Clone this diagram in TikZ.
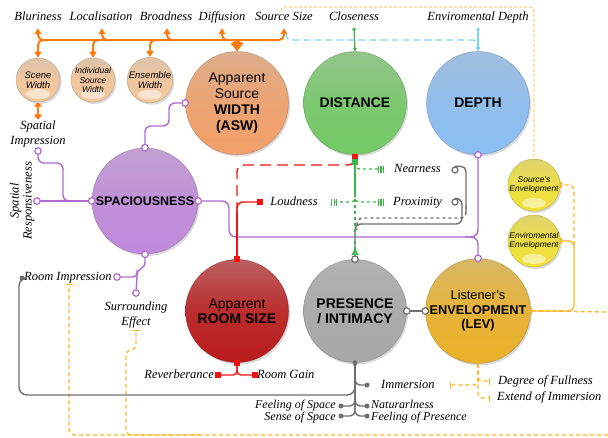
\documentclass[tikz,border=0pt]{standalone}
\usepackage{fontspec}
\setmainfont{Liberation Serif}
\setsansfont{Liberation Sans}
\usetikzlibrary{arrows.meta,shadows,calc}
\definecolor{cASW}{HTML}{F2A068}
\definecolor{cDIST}{HTML}{74C966}
\definecolor{cDEPTH}{HTML}{8ABEF2}
\definecolor{cSPAC}{HTML}{C18ADC}
\definecolor{cROOM}{HTML}{BA1A1A}
\definecolor{cPRES}{HTML}{A8A8A8}
\definecolor{cLEV}{HTML}{EBB128}
\definecolor{cPEACH}{HTML}{F4C79C}
\definecolor{cYEL}{HTML}{F3E236}
\definecolor{lOrange}{HTML}{FF7B0E}
\definecolor{lPurple}{HTML}{B16AD3}
\definecolor{lGreen}{HTML}{3DB54A}
\definecolor{lGray}{HTML}{6E6E6E}
\definecolor{lBlue}{HTML}{7FD3F5}
\definecolor{lOdash}{HTML}{FFB41F}
\definecolor{lYdash}{HTML}{FFD27A}
\definecolor{lRed}{HTML}{F21212}
\tikzset{
 Trip/.tip={Bar[width=7pt,sep=1.2pt]Bar[width=7pt,sep=1.2pt]Bar[width=7pt]},
 glass/.style={circle, inner sep=0pt, align=center, top color=#1!58!lightgray, bottom color=#1, middle color=#1!88!lightgray, draw=#1!70!black, draw opacity=.5, line width=.6pt, drop shadow={shadow xshift=1.5pt, shadow yshift=-2pt, opacity=.3}},
 bigb/.style={minimum size=103pt, font=\sffamily\fontsize{14}{16}\selectfont},
 minib/.style={minimum size=#1, font=\sffamily\itshape\fontsize{9.5}{10}\selectfont, path picture={\fill[white,opacity=.5] ([yshift=8pt]path picture bounding box.south) ellipse [x radius=12pt, y radius=5pt];}},
 lbl/.style={font=\itshape\fontsize{12.5}{15}\selectfont, inner sep=0pt, text height=8.5pt, text depth=2.5pt},
 lbls/.style={font=\itshape\fontsize{12}{14}\selectfont, inner sep=0pt, text height=7.5pt, text depth=1.5pt},
 lblm/.style={font=\itshape\fontsize{12.5}{15}\selectfont, inner sep=0pt, align=center},
 ol/.style={draw=lOrange, line width=2pt},
 pl/.style={draw=lPurple, line width=1.4pt},
 gl/.style={draw=lGray, line width=1.4pt},
 gr/.style={draw=lGreen, line width=1.3pt},
 rl/.style={draw=lRed, line width=1.4pt},
 bl/.style={draw=lBlue, line width=1.3pt},
 od/.style={draw=lOdash, line width=1.3pt, dash pattern=on 4pt off 3pt},
 oc/.style={draw=lOdash, line width=1.3pt},
 yd/.style={draw=lYdash, line width=1.2pt, dash pattern=on 3pt off 2pt},
 pc/.style={circle, draw=lPurple, fill=white, line width=1.2pt, minimum size=6.5pt, inner sep=0pt},
 gc/.style={circle, draw=lGray, fill=white, line width=1.2pt, minimum size=6.5pt, inner sep=0pt},
 gdot/.style={circle, fill=lGray, minimum size=5pt, inner sep=0pt},
 rsq/.style={rectangle, fill=lRed, minimum size=5.5pt, inner sep=0pt},
 gsq/.style={rectangle, fill=lGreen, minimum size=5.5pt, inner sep=0pt},
}
\begin{document}
\begin{tikzpicture}[x=1pt,y=-1pt]
\useasboundingbox (0,0) rectangle (608,437);
% ---------- balls
\node[glass=cASW, bigb] (asw) at (237,103) {Apparent\\Source\\\textbf{WIDTH}\\\textbf{(ASW)}};
\node[glass=cDIST, bigb] (dist) at (355,103) {\textbf{DISTANCE}};
\node[glass=cDEPTH, bigb] (depth) at (478,103) {\textbf{DEPTH}};
\node[glass=cSPAC, bigb, minimum size=106pt, font=\sffamily\fontsize{12.5}{14}\selectfont] (spac) at (145,201) {\textbf{SPACIOUSNESS}};
\node[glass=cROOM, bigb, font=\sffamily\fontsize{14}{15}\selectfont] (room) at (237,311) {Apparent\\\textbf{ROOM SIZE}};
\node[glass=cPRES, bigb, font=\sffamily\fontsize{14}{15}\selectfont] (pres) at (355,311) {\textbf{PRESENCE}\\\textbf{/ INTIMACY}};
\node[glass=cLEV, bigb, font=\sffamily\fontsize{12.7}{14.5}\selectfont] (lev) at (478,311) {Listener's\\\textbf{ENVELOPMENT}\\\textbf{(LEV)}};
\node[glass=cPEACH, minib=44pt] (scene) at (38,80) {Scene\\Width};
\node[glass=cPEACH, minib=44pt, font=\sffamily\itshape\fontsize{8.5}{9.5}\selectfont] (isw) at (93,80) {Individual\\Source\\Width};
\node[glass=cPEACH, minib=44pt] (ew) at (150,80) {Ensemble\\Width};
\node[glass=cYEL, minib=52pt, font=\sffamily\itshape\fontsize{8.4}{9}\selectfont] (se) at (534,185) {Source's\\Envelopment};
\node[glass=cYEL, minib=52pt, font=\sffamily\itshape\fontsize{8.4}{9}\selectfont] (ee) at (534,241) {Enviromental\\Envelopment};
% ---------- labels
\node[lbl] (blur) at (38,17.5) {Bluriness};
\node[lbl] (loc) at (101,17.5) {Localisation};
\node[lbl] (broad) at (166,17.5) {Broadness};
\node[lbl] (diff) at (222,17.5) {Diffusion};
\node[lbl] (ssize) at (284,17.5) {Source Size};
\node[lbl] (close) at (354,17.5) {Closeness};
\node[lbl] (envd) at (478,17.5) {Enviromental Depth};
\node[lblm] (simp) at (38,134) {Spatial\\Impression};
\node[lblm, rotate=90, font=\itshape\fontsize{12.5}{13}\selectfont] (sresp) at (22,201) {Spatial\\Responsiveness};
\node[lbl, anchor=west] (rimp) at (24,277.5) {Room Impression};
\node[lblm] (surr) at (136,315) {Surrounding\\Effect};
\node[lbl] (loud) at (294,202.5) {Loudness};
\node[lbl, anchor=west] (near) at (394,169.5) {Nearness};
\node[lbl, anchor=west] (prox) at (393,202.5) {Proximity};
\node[lbl, anchor=east] (reverb) at (214,375.5) {Reverberance};
\node[lbl, anchor=west] (rgain) at (257,375.5) {Room Gain};
\node[lbl, anchor=west] (immer) at (381,385.5) {Immersion};
\node[lbl, anchor=west] (dfull) at (498,381.5) {Degree of Fullness};
\node[lbl, anchor=west] (eimm) at (497,397.5) {Extend of Immersion};
\node[lbls, anchor=west] (natur) at (371,405) {Naturarlness};
\node[lbls, anchor=west] (fpres) at (371,417) {Feeling of Presence};
\node[lbls, anchor=east] (fspace) at (336,405) {Feeling of Space};
\node[lbls, anchor=east] (sspace) at (336,417) {Sense of Space};
% ---------- free ends
\coordinate (srcirc) at (37,201);
\coordinate (sicirc) at (38,151);
\coordinate (ricirc) at (117,277);
\coordinate (secirc) at (136,293);
\coordinate (imdot) at (367,385);
\coordinate (natdot) at (367,406);
\coordinate (fpdot) at (367,416);
\coordinate (fsdot) at (341,406);
\coordinate (ssdot) at (341,416);
\coordinate (ridot) at (22,278);
\coordinate (lsq) at (260,202);
\coordinate (rvsq) at (218,375);
\coordinate (rgsq) at (255,375);
% ---------- dashed orange (background)
\draw[yd, rounded corners=4pt] (281,11) |- (534,7) -- (se.north);
\draw[od, rounded corners=6pt, -{Bar[width=7pt]}] (608,435) -| (69,284);
\draw[od, rounded corners=5pt, -{Bar[width=7pt]}] (200,435) -| (126,350) -| (136,330);
\draw[od, {Bar[width=7pt]}-] (lev.east) -- (608,312);
\draw[oc, rounded corners=6pt, -{Bar[width=6pt]}] (lev.east) -| (574,241) -- (ee.east);
\draw[od, rounded corners=5pt, -{Bar[width=6pt]}] (574,245) |- (se.east);
\draw[od, rounded corners=4pt, -{Bar[width=7pt]}] (lev.south) |- (450,385);
\draw[od, rounded corners=4pt, -{Bar[width=7pt]}] (lev.south) |- (490,381);
\draw[od, rounded corners=4pt, -{Bar[width=7pt]}] (lev.south) |- (490,398);
% ---------- orange bus
\draw[ol] (45,40) -- (279,40);
\draw[ol, rounded corners=5pt, -{Triangle[width=7pt,length=6pt]}] (47,40) -| ($(blur.south)+(0,5)$);
\draw[ol, rounded corners=5pt, -{Triangle[width=7pt,length=6pt]}] (110,40) -| ($(loc.south)+(1,5)$);
\draw[ol, rounded corners=5pt, -{Triangle[width=7pt,length=6pt]}] (176,40) -| ($(broad.south)+(1,5)$);
\draw[ol, rounded corners=5pt, -{Triangle[width=7pt,length=6pt]}] (231,40) -| ($(diff.south)+(0,5)$);
\draw[ol, rounded corners=5pt, -{Triangle[width=7pt,length=6pt]}] (250,40) -| ($(ssize.south)+(0,5)$);
\draw[ol, rounded corners=5pt, -{Triangle[width=7pt,length=6pt]}] (47,40) -| (scene.north);
\draw[ol, rounded corners=5pt, -{Triangle[width=7pt,length=6pt]}] (102,40) -| (isw.north);
\draw[ol, rounded corners=5pt, -{Triangle[width=7pt,length=6pt]}] (159,40) -| (ew.north);
\draw[ol, -{Kite[width=13pt,length=11pt,inset=3pt]}] (237,39) -- (asw.north);
\draw[ol, {Kite[width=8pt,length=5pt]}-{Kite[width=8pt,length=6pt]}] (scene.south) -- ($(simp.north)+(0,-1)$);
% ---------- blue / closeness
\draw[bl, dash pattern=on 7pt off 4pt, rounded corners=5pt, -{Triangle[width=4pt,length=4pt]}] (286,33) |- (478,40) -- (depth.north);
\draw[bl, {Triangle[width=4pt,length=3pt]}-{Triangle[width=4pt,length=3pt]}] ($(envd.south)+(0,4)$) -- (depth.north);
\draw[gr, {Triangle[width=4pt,length=3pt]}-{Triangle[width=4pt,length=3pt]}] ($(close.south)+(0,4)$) -- (dist.north);
% ---------- purple
\draw[pl, rounded corners=6pt] (spac.north) |- (169,126) |- (asw.west);
\draw[pl] (spac.west) -- (srcirc);
\draw[pl, rounded corners=6pt] (sicirc) |- (63,163) |- (80,201);
\draw[pl, rounded corners=7pt] (spac.east) -| (229,237) -| (lev.north);
\draw[pl, rounded corners=7pt] (depth.south) |- (465,237);
\draw[pl] (spac.south) -- (145,262) .. controls (145,270) and (137,267) .. (137,276) -- (secirc);
\draw[pl, rounded corners=4pt] (ricirc) -| (137,270);
\foreach \p in {asw.west,spac.north,spac.west,spac.east,spac.south,srcirc,sicirc,ricirc,secirc,depth.south,lev.north}
  \node[pc] at (\p) {};
% ---------- gray
\draw[gl] (pres.east) -- (lev.west);
\node[gc] at (pres.east) {};
\node[gc] at (lev.west) {};
\draw[gl, rounded corners=5pt] (pres.south) |- (imdot);
\draw[gl, rounded corners=5pt] (pres.south) |- (natdot);
\draw[gl, rounded corners=5pt] (pres.south) |- (fpdot);
\draw[gl, rounded corners=5pt] (pres.south) |- (fsdot);
\draw[gl, rounded corners=5pt] (pres.south) |- (ssdot);
\draw[gl, rounded corners=8pt] (pres.south) |- (19,395) |- (ridot);
\foreach \p in {pres.south,imdot,natdot,fpdot,fsdot,ssdot,ridot}
  \node[gdot] at (\p) {};
\node[gc, minimum size=6pt] (nh) at (455,170) {};
\node[gc, minimum size=6pt] (ph) at (455,202) {};
\draw[gl, rounded corners=5pt] (nh.north) -| (466,212);
\draw[gl, dashed, rounded corners=6pt] (466,206) |- (357,218) -- (357,230);
\draw[gl, rounded corners=6pt] (ph.north) -| (462,224) -| (pres.north);
\node[gc] at (pres.north) {};
% ---------- red
\draw[rl] (room.north) -- (237,213);
\draw[rl, dash pattern=on 11pt off 6pt, rounded corners=7pt] (237,213) |- (355,165) -- (dist.south);
\draw[rl, rounded corners=6pt] (237,222) |- (lsq);
\draw[rl, rounded corners=4pt] (room.south) |- (rvsq);
\draw[rl, rounded corners=4pt] (room.south) |- (rgsq);
\foreach \p in {room.north,lsq,rvsq,rgsq,room.south}
  \node[rsq] at (\p) {};
\node[rsq] at (355,157) {};
% ---------- green
\draw[gr] (355,160) -- (355,197);
\draw[gr, dashed, -{Triangle[open, reversed, width=7pt, length=7pt]}] (355,199) -- (355,255);
\draw[gr, dashed, rounded corners=4pt, -Trip] (355,194) |- (331,202);
\draw[gr, dashed, rounded corners=4pt, -Trip] (355,194) |- (384,202);
\draw[gr, dashed, rounded corners=4pt, -Trip] (355,163) |- (384,169);
\node[gsq] at (355,162) {};
\end{tikzpicture}
\end{document}
